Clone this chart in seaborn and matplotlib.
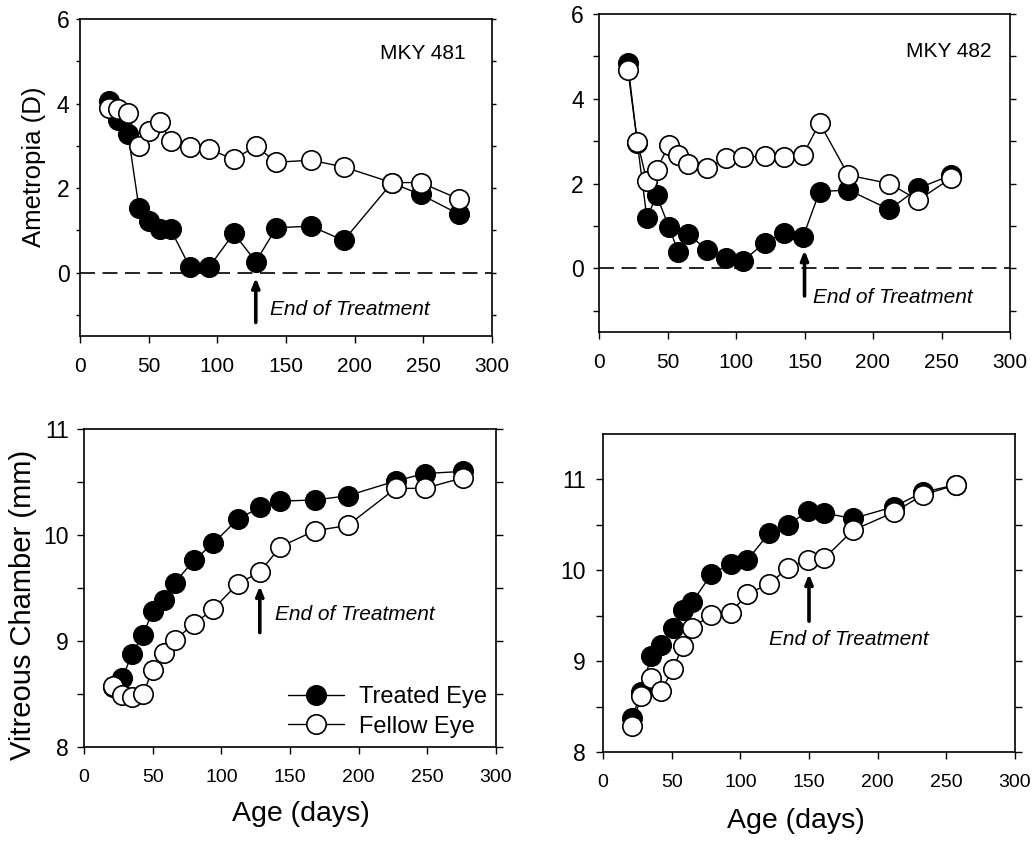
import numpy as np
import pandas as pd
import matplotlib
matplotlib.use("Agg")
import matplotlib.pyplot as plt
from matplotlib.ticker import MultipleLocator, FixedLocator
import seaborn as sns

# ---------------- data ----------------
ages_481 = [21, 28, 35, 43, 50, 58, 66, 80, 94, 112, 128, 143, 168, 192, 227, 248, 276]
ametropia_481_treated = [4.07, 3.60, 3.28, 1.52, 1.22, 1.02, 1.02, 0.13, 0.13, 0.93, 0.26, 1.06, 1.10, 0.76, 2.12, 1.85, 1.38]
ametropia_481_fellow = [3.90, 3.88, 3.77, 3.00, 3.35, 3.57, 3.11, 2.98, 2.92, 2.68, 2.99, 2.61, 2.66, 2.50, 2.13, 2.13, 1.74]
vitreous_481_treated = [8.57, 8.65, 8.88, 9.06, 9.28, 9.39, 9.55, 9.76, 9.92, 10.15, 10.26, 10.32, 10.33, 10.37, 10.51, 10.58, 10.60]
vitreous_481_fellow = [8.58, 8.49, 8.47, 8.50, 8.73, 8.89, 9.01, 9.16, 9.30, 9.54, 9.65, 9.89, 10.04, 10.09, 10.44, 10.44, 10.54]

ages_482 = [21, 28, 35, 42, 51, 58, 65, 79, 93, 105, 121, 135, 149, 161, 182, 212, 233, 257]
ametropia_482_treated = [4.84, 2.95, 1.18, 1.73, 0.98, 0.38, 0.81, 0.43, 0.25, 0.17, 0.61, 0.83, 0.75, 1.81, 1.85, 1.39, 1.89, 2.20]
ametropia_482_fellow = [4.69, 2.99, 2.05, 2.32, 2.91, 2.68, 2.46, 2.36, 2.60, 2.62, 2.65, 2.62, 2.68, 3.43, 2.20, 2.00, 1.61, 2.13]
vitreous_482_treated = [8.37, 8.66, 9.06, 9.18, 9.36, 9.56, 9.65, 9.96, 10.07, 10.11, 10.41, 10.50, 10.65, 10.63, 10.57, 10.70, 10.86, 10.94]
vitreous_482_fellow = [8.29, 8.62, 8.81, 8.67, 8.91, 9.17, 9.37, 9.51, 9.53, 9.74, 9.85, 10.03, 10.11, 10.13, 10.44, 10.64, 10.83, 10.94]

monkey_labels = ["MKY 481", "MKY 482"]
end_treatment_481 = 128
end_treatment_482 = 150
series_labels = ["Treated Eye", "Fellow Eye"]
annotation_text = "End of Treatment"

# ---------------- style ----------------
sns.set_style("ticks")
plt.rcParams["font.family"] = ["Liberation Sans", "DejaVu Sans"]
plt.rcParams["axes.linewidth"] = 1.2
plt.rcParams["xtick.direction"] = "out"
plt.rcParams["ytick.direction"] = "out"
for key in ["text.color", "axes.labelcolor", "xtick.color", "ytick.color",
            "axes.edgecolor", "xtick.labelcolor", "ytick.labelcolor"]:
    plt.rcParams[key] = "black"

W, H = 1034, 842
fig = plt.figure(figsize=(W / 100, H / 100), dpi=100)


def px_axes(l, t, r, b):
    return fig.add_axes([l / W, 1 - b / H, (r - l) / W, (b - t) / H])


ax_tl = px_axes(80, 19, 492, 336)
ax_tr = px_axes(599, 14, 1010, 332)
ax_bl = px_axes(84, 429, 496, 747)
ax_br = px_axes(603, 434, 1015, 752)

MS = 14
MEW = 1.2
LW = 1.0


def draw_pair(ax, ages, treated, fellow):
    df = pd.DataFrame({"age": ages, "treated": treated, "fellow": fellow})
    sns.lineplot(data=df, x="age", y="treated", ax=ax, color="black", lw=LW,
                 marker="o", markersize=MS, markerfacecolor="black",
                 markeredgecolor="black", markeredgewidth=MEW,
                 estimator=None, sort=False, label=series_labels[0])
    sns.lineplot(data=df, x="age", y="fellow", ax=ax, color="black", lw=LW,
                 marker="o", markersize=MS, markerfacecolor="white",
                 markeredgecolor="black", markeredgewidth=MEW,
                 estimator=None, sort=False, label=series_labels[1])
    if ax.get_legend() is not None:
        ax.get_legend().remove()


def style_axes(ax, ylim, ymajor, yminor, xsize, ysize, ylen, ypad, xpad):
    ax.set_xlim(0, 300)
    ax.set_ylim(*ylim)
    ax.xaxis.set_major_locator(MultipleLocator(50))
    ax.yaxis.set_major_locator(FixedLocator(ymajor))
    ax.yaxis.set_minor_locator(FixedLocator(yminor))
    ax.tick_params(axis="x", which="major", length=5, width=1, labelsize=xsize,
                   pad=xpad, top=False, bottom=True, colors="black")
    ax.tick_params(axis="y", which="both", length=ylen, width=1, labelsize=ysize,
                   pad=ypad, left=True, right=True, labelright=False, colors="black")
    for s in ax.spines.values():
        s.set_visible(True)
        s.set_linewidth(1.2)
        s.set_color("black")
    ax.set_xlabel("")
    ax.set_ylabel("")


def add_arrow(ax, x, y0, y1):
    ax.annotate("", xy=(x, y1), xytext=(x, y0),
                arrowprops=dict(arrowstyle="->,head_length=0.55,head_width=0.22",
                                lw=2.6, color="black", shrinkA=0, shrinkB=0))


# Top-left
draw_pair(ax_tl, ages_481, ametropia_481_treated, ametropia_481_fellow)
ax_tl.axhline(0, color="black", lw=1.2, ls=(0, (9, 4.5)), zorder=1)
style_axes(ax_tl, (-1.5, 6), [0, 2, 4, 6], [-1, 1, 3, 5],
           xsize=15, ysize=16.5, ylen=3, ypad=4.5, xpad=10)
ax_tl.text(281, 5.18, monkey_labels[0], ha="right", va="center", fontsize=15)
add_arrow(ax_tl, end_treatment_481, -1.18, -0.12)
ax_tl.text(138.5, -0.88, annotation_text, ha="left", va="center",
           fontsize=15, style="italic")
ax_tl.set_ylabel("Ametropia (D)", fontsize=18.5)
ax_tl.yaxis.set_label_coords(-0.083, 0.533)

# Top-right
draw_pair(ax_tr, ages_482, ametropia_482_treated, ametropia_482_fellow)
ax_tr.axhline(0, color="black", lw=1.2, ls=(0, (9, 4.5)), zorder=1)
style_axes(ax_tr, (-1.5, 6), [0, 2, 4, 6], [-1, 1, 3, 5],
           xsize=15, ysize=16.5, ylen=4, ypad=7, xpad=10)
ax_tr.text(286.5, 5.12, monkey_labels[1], ha="right", va="center", fontsize=15)
add_arrow(ax_tr, end_treatment_482, -0.65, 0.43)
ax_tr.text(156.5, -0.69, annotation_text, ha="left", va="center",
           fontsize=15, style="italic")

# Bottom-left
draw_pair(ax_bl, ages_481, vitreous_481_treated, vitreous_481_fellow)
style_axes(ax_bl, (8, 11), [8, 9, 10, 11], [8.5, 9.5, 10.5],
           xsize=14, ysize=16.5, ylen=5, ypad=6, xpad=10.5)
add_arrow(ax_bl, end_treatment_481, 9.08, 9.52)
ax_bl.text(139, 9.25, annotation_text, ha="left", va="center",
           fontsize=15, style="italic")
ax_bl.set_ylabel("Vitreous Chamber (mm)", fontsize=21)
ax_bl.yaxis.set_label_coords(-0.115, 0.447)
ax_bl.set_xlabel("Age (days)", fontsize=20.5)
ax_bl.xaxis.set_label_coords(0.527, -0.17)
handles = ax_bl.lines[:2]
ax_bl.legend(handles=handles, labels=series_labels, loc="lower right",
             frameon=False, fontsize=17, handlelength=2.4, handletextpad=0.6,
             labelspacing=0.3, borderaxespad=0.3, borderpad=0.1)

# Bottom-right
draw_pair(ax_br, ages_482, vitreous_482_treated, vitreous_482_fellow)
style_axes(ax_br, (8, 11.5), [8, 9, 10, 11], [8.5, 9.5, 10.5],
           xsize=14, ysize=16.5, ylen=5, ypad=7.5, xpad=10.5)
add_arrow(ax_br, end_treatment_482, 9.44, 9.96)
ax_br.text(179, 9.24, annotation_text, ha="center", va="center",
           fontsize=15, style="italic")
ax_br.set_xlabel("Age (days)", fontsize=20.5)
ax_br.xaxis.set_label_coords(0.468, -0.175)

fig.savefig("out.png", dpi=100, facecolor="white")
